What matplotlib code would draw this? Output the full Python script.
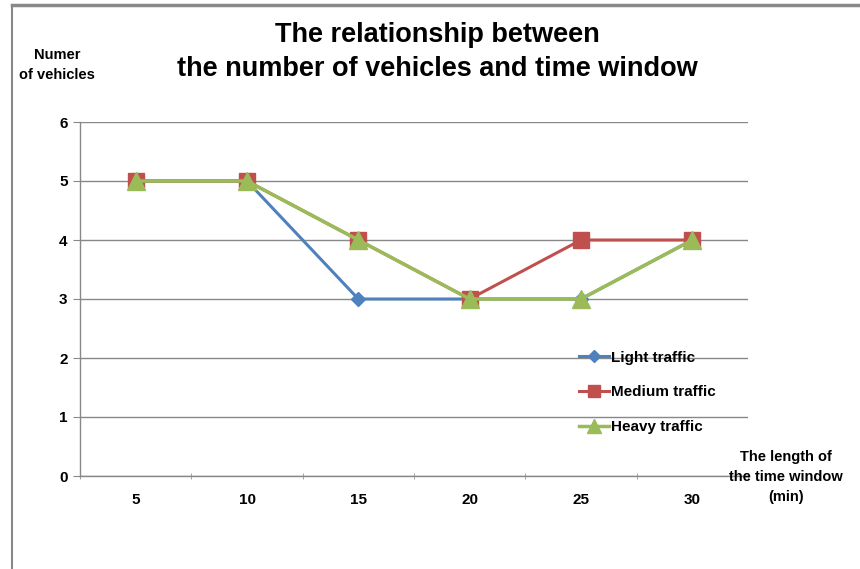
import matplotlib
matplotlib.use("Agg")
import matplotlib.pyplot as plt
from matplotlib.lines import Line2D

categories = ["5", "10", "15", "20", "25", "30"]
light = [5, 5, 3, 3, 3, 4]
medium = [5, 5, 4, 3, 4, 4]
heavy = [5, 5, 4, 3, 3, 4]
yticks = [0, 1, 2, 3, 4, 5, 6]

plt.rcParams['font.family'] = ['Liberation Sans', 'DejaVu Sans']

fig = plt.figure(figsize=(8.6, 5.69), dpi=100)
# chart border (top and left visible)
fig.add_artist(Line2D([12/860, 12/860], [0, 1 - 5/569], color='#888888', lw=1.5, transform=fig.transFigure))
fig.add_artist(Line2D([12/860, 1], [1 - 5/569, 1 - 5/569], color='#888888', lw=2.5, transform=fig.transFigure))

ax = fig.add_axes([80/860, 1 - 476/569, (748 - 80)/860, (476 - 122)/569])
x = list(range(len(categories)))
blue, red, green = '#4F81BD', '#C0504D', '#9BBB59'
ax.plot(x, light, color=blue, lw=2.2, marker='D', ms=7.5, label='Light traffic', zorder=3)
ax.plot(x, medium, color=red, lw=2.2, marker='s', ms=11, label='Medium traffic', zorder=4)
ax.plot(x, heavy, color=green, lw=2.5, marker='^', ms=13, label='Heavy traffic', zorder=5)

ax.set_xlim(-0.5, len(categories) - 0.5)
ax.set_ylim(0, 6)
ax.set_yticks(yticks)
ax.set_yticklabels([str(v) for v in yticks], fontsize=11, fontweight='bold')
ax.set_xticks(x)
ax.set_xticklabels(categories, fontsize=11, fontweight='bold')
ax.tick_params(axis='x', length=0, pad=12)
ax.set_xticks([i - 0.5 for i in range(len(categories) + 1)], minor=True)
ax.tick_params(axis='x', which='minor', length=5, color='#999999', direction='inout')
ax.tick_params(axis='y', length=5, color='#888888', pad=4)
ax.grid(axis='y', color='#888888', lw=1)
ax.set_axisbelow(True)
for s in ['top', 'right']:
    ax.spines[s].set_visible(False)
for s in ['left', 'bottom']:
    ax.spines[s].set_color('#888888')
    ax.spines[s].set_linewidth(1)

fig.text(437/860, 1 - 52/569, "The relationship between\nthe number of vehicles and time window",
         ha='center', va='center', fontsize=19.5, fontweight='bold', linespacing=1.42)
fig.text(57/860, 1 - 65/569, "Numer\nof vehicles", ha='center', va='center', fontsize=10.5,
         fontweight='bold', linespacing=1.6)
fig.text(786/860, 1 - 477/569, "The length of\nthe time window\n(min)", ha='center', va='center',
         fontsize=10.5, fontweight='bold', linespacing=1.5)

leg = ax.legend(loc='upper left', bbox_to_anchor=(565/860, 1 - 337/569), bbox_transform=fig.transFigure,
                frameon=False, prop={'size': 11, 'weight': 'bold'}, handlelength=2.0,
                handletextpad=0.1, labelspacing=1.35, markerscale=0.75)

fig.savefig("out.png", dpi=100)
